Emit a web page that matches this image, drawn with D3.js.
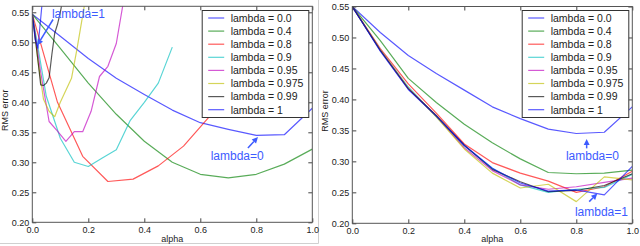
<!DOCTYPE html>
<html><head><meta charset="utf-8">
<script src="https://cdn.jsdelivr.net/npm/d3@7"></script>
<style>
html,body{margin:0;padding:0;background:#fff;}
svg{display:block;font-family:"Liberation Sans",Arial,sans-serif;}
</style></head>
<body>
<svg id="chart" width="640" height="246"></svg>
<script>
// ---------------- DATA ----------------
const lambdaLabels = ["0.0", "0.4", "0.8", "0.9", "0.95", "0.975", "0.99", "1"];
const xTickValues = [0.0, 0.2, 0.4, 0.6, 0.8, 1.0];
const yTickValues = [0.20, 0.25, 0.30, 0.35, 0.40, 0.45, 0.50, 0.55];
const alphaGrid = [0, 0.1, 0.2, 0.3, 0.4, 0.5, 0.6, 0.7, 0.8, 0.9, 1.0];

// Left panel (each lambda has its own alpha grid)
const leftAlpha_0 = alphaGrid;
const leftRms_0 = [0.547, 0.510, 0.473, 0.440, 0.413, 0.387, 0.366, 0.355, 0.345, 0.346, 0.390];
const leftAlpha_04 = alphaGrid;
const leftRms_04 = [0.547, 0.490, 0.432, 0.380, 0.335, 0.300, 0.280, 0.274, 0.280, 0.297, 0.322];
const leftAlpha_08 = [0, 0.09, 0.18, 0.27, 0.36, 0.45, 0.54, 0.63, 0.72];
const leftRms_08 = [0.547, 0.400, 0.310, 0.268, 0.272, 0.294, 0.327, 0.375, 0.450];
const leftAlpha_09 = [0, 0.05, 0.10, 0.15, 0.20, 0.25, 0.30, 0.35, 0.40, 0.45, 0.50];
const leftRms_09 = [0.547, 0.410, 0.340, 0.300, 0.293, 0.307, 0.321, 0.370, 0.400, 0.432, 0.492];
const leftAlpha_095 = [0, 0.03, 0.06, 0.09, 0.12, 0.15, 0.18, 0.21, 0.24, 0.27, 0.30, 0.33];
const leftRms_095 = [0.547, 0.450, 0.368, 0.352, 0.335, 0.351, 0.351, 0.385, 0.443, 0.460, 0.498, 0.580];
const leftAlpha_0975 = [0, 0.02, 0.04, 0.06, 0.08, 0.10, 0.12, 0.14, 0.16, 0.18, 0.20];
const leftRms_0975 = [0.547, 0.470, 0.405, 0.385, 0.376, 0.400, 0.420, 0.440, 0.490, 0.545, 0.600];
const leftAlpha_099 = [0, 0.01, 0.02, 0.03, 0.04, 0.05, 0.06, 0.07, 0.08, 0.09, 0.10, 0.11];
const leftRms_099 = [0.547, 0.510, 0.470, 0.429, 0.428, 0.432, 0.441, 0.480, 0.515, 0.530, 0.550, 0.575];
const leftAlpha_1 = [0, 0.01, 0.02, 0.03, 0.04];
const leftRms_1 = [0.547, 0.505, 0.490, 0.540, 0.590];

// Right panel (all on alphaGrid)
const rightRms_0    = [0.550, 0.508, 0.471, 0.442, 0.415, 0.388, 0.369, 0.352, 0.345, 0.347, 0.388];
const rightRms_04   = [0.550, 0.495, 0.434, 0.395, 0.360, 0.330, 0.304, 0.282, 0.280, 0.281, 0.286];
const rightRms_08   = [0.550, 0.482, 0.425, 0.378, 0.328, 0.298, 0.281, 0.268, 0.250, 0.259, 0.284];
const rightRms_09   = [0.550, 0.480, 0.420, 0.372, 0.325, 0.289, 0.262, 0.250, 0.255, 0.258, 0.279];
const rightRms_095  = [0.550, 0.480, 0.418, 0.373, 0.322, 0.285, 0.262, 0.255, 0.259, 0.266, 0.273];
const rightRms_0975 = [0.550, 0.480, 0.418, 0.372, 0.320, 0.281, 0.257, 0.263, 0.235, 0.275, 0.270];
const rightRms_099  = [0.550, 0.479, 0.417, 0.374, 0.326, 0.287, 0.267, 0.251, 0.253, 0.261, 0.280];
const rightRms_1    = [0.550, 0.478, 0.416, 0.373, 0.326, 0.289, 0.265, 0.252, 0.254, 0.246, 0.292];

// Annotations (data coordinates)
const leftNotes = [
  {text: "lambda=1", tx: 0.070, ty: 0.540, ax: 0.074, ay: 0.538, hx: 0.018, hy: 0.495},
  {text: "lambda=0", tx: 0.637, ty: 0.304, ax: 0.770, ay: 0.324, hx: 0.806, hy: 0.342}
];
const rightNotes = [
  {text: "lambda=0", tx: 0.763, ty: 0.302, ax: 0.837, ay: 0.321, hx: 0.837, hy: 0.336},
  {text: "lambda=1", tx: 0.795, ty: 0.211, ax: 0.846, ay: 0.235, hx: 0.875, hy: 0.248}
];

// ---------------- STYLE ----------------
const lineColors = ["#0000ff", "#008000", "#ff0000", "#00bfbf", "#bf00bf", "#bfbf00", "#000000", "#0000ff"];
const noteColor = "#3d5bff";

const leftSeries = [
  [leftAlpha_0, leftRms_0], [leftAlpha_04, leftRms_04], [leftAlpha_08, leftRms_08],
  [leftAlpha_09, leftRms_09], [leftAlpha_095, leftRms_095], [leftAlpha_0975, leftRms_0975],
  [leftAlpha_099, leftRms_099], [leftAlpha_1, leftRms_1]
].map(([a, r]) => a.map((d, i) => [d, r[i]]));
const rightSeries = [rightRms_0, rightRms_04, rightRms_08, rightRms_09, rightRms_095,
  rightRms_0975, rightRms_099, rightRms_1].map(r => alphaGrid.map((d, i) => [d, r[i]]));

const svg = d3.select("#chart");

// outer light frame of the left figure
svg.append("line").attr("x1", 0).attr("x2", 318.5).attr("y1", 243.5).attr("y2", 243.5)
  .attr("stroke", "#d0d0d0").attr("stroke-width", 1);
svg.append("line").attr("x1", 318.5).attr("x2", 318.5).attr("y1", 0).attr("y2", 243.5)
  .attr("stroke", "#d0d0d0").attr("stroke-width", 1);

function panel(id, left, right, top, bottom, yMax, series, notes) {
  const x = d3.scaleLinear().domain([0, 1]).range([left, right]);
  const y = d3.scaleLinear().domain([0.2, yMax]).range([bottom, top]);
  const g = svg.append("g");

  g.append("clipPath").attr("id", "clip" + id).append("rect")
    .attr("x", left).attr("y", top).attr("width", right - left).attr("height", bottom - top);

  const line = d3.line().x(d => x(d[0])).y(d => y(d[1]));
  g.append("g").attr("clip-path", `url(#clip${id})`)
    .selectAll("path").data(series).join("path")
    .attr("d", line).attr("fill", "none")
    .attr("stroke", (d, i) => lineColors[i]).attr("stroke-opacity", 0.65)
    .attr("stroke-width", 1.2).attr("stroke-linejoin", "round");

  const axStyle = sel => {
    sel.select(".domain").remove();
    sel.selectAll(".tick line").attr("stroke", "#444");
    sel.selectAll("text").attr("fill", "#222").attr("font-size", "9px")
      .attr("font-family", '"Liberation Sans", Arial, sans-serif');
  };
  g.append("g").attr("transform", `translate(0,${bottom})`)
    .call(d3.axisBottom(x).tickValues(xTickValues).tickFormat(d3.format(".1f")).tickSize(-4).tickSizeOuter(0).tickPadding(4))
    .call(axStyle);
  g.append("g").attr("transform", `translate(0,${top})`)
    .call(d3.axisTop(x).tickValues(xTickValues).tickFormat("").tickSize(-4).tickSizeOuter(0))
    .call(axStyle);
  g.append("g").attr("transform", `translate(${left},0)`)
    .call(d3.axisLeft(y).tickValues(yTickValues).tickFormat(d3.format(".2f")).tickSize(-4).tickSizeOuter(0).tickPadding(3))
    .call(axStyle);
  g.append("g").attr("transform", `translate(${right},0)`)
    .call(d3.axisRight(y).tickValues(yTickValues).tickFormat("").tickSize(-4).tickSizeOuter(0))
    .call(axStyle);

  g.append("rect").attr("x", left).attr("y", top).attr("width", right - left).attr("height", bottom - top)
    .attr("fill", "none").attr("stroke", "#555").attr("stroke-width", 1);

  // axis labels
  g.append("text").attr("x", (left + right) / 2).attr("y", 242).attr("text-anchor", "middle")
    .attr("font-size", "9px").attr("fill", "#222").text("alpha");
  g.append("text").attr("transform", `translate(${left - 24.5},${(top + bottom) / 2 - 4}) rotate(-90)`)
    .attr("text-anchor", "middle").attr("font-size", "9px").attr("fill", "#222").text("RMS error");

  // legend
  const lx = left + 169.4, ly = 10, lw = 106.6, lh = 107;
  const lg = g.append("g");
  lg.append("rect").attr("x", lx + 0.5).attr("y", ly + 0.5).attr("width", lw).attr("height", lh)
    .attr("fill", "#fff").attr("stroke", "#333").attr("stroke-width", 1);
  lambdaLabels.forEach((lab, i) => {
    const yy = ly + 8 + i * 13.1;
    lg.append("line").attr("x1", lx + 6.5).attr("x2", lx + 22.5).attr("y1", yy).attr("y2", yy)
      .attr("stroke", lineColors[i]).attr("stroke-opacity", 0.65).attr("stroke-width", 1.2);
    lg.append("text").attr("x", lx + 29).attr("y", yy + 3.8).attr("font-size", "10.5px")
      .attr("fill", "#222").text("lambda = " + lab);
  });

  // annotations
  notes.forEach(n => {
    g.append("text").attr("x", x(n.tx)).attr("y", y(n.ty)).attr("font-size", "12px")
      .attr("fill", noteColor).text(n.text);
    const x1 = x(n.ax), y1 = y(n.ay), x2 = x(n.hx), y2 = y(n.hy);
    const ang = Math.atan2(y2 - y1, x2 - x1);
    const hl = 6, hw = 3;
    const bx = x2 - hl * Math.cos(ang), by = y2 - hl * Math.sin(ang);
    g.append("line").attr("x1", x1).attr("y1", y1).attr("x2", bx).attr("y2", by)
      .attr("stroke", noteColor).attr("stroke-width", 1.5);
    g.append("path").attr("d",
      `M${x2},${y2}L${bx + hw * Math.sin(ang)},${by - hw * Math.cos(ang)}L${bx - hw * Math.sin(ang)},${by + hw * Math.cos(ang)}Z`)
      .attr("fill", noteColor);
  });
}

panel("L", 32.3, 312.3, 6.3, 222.3, 0.56, leftSeries, leftNotes);
panel("R", 352.3, 632.3, 6.5, 223.3, 0.55, rightSeries, rightNotes);
</script>
</body></html>
